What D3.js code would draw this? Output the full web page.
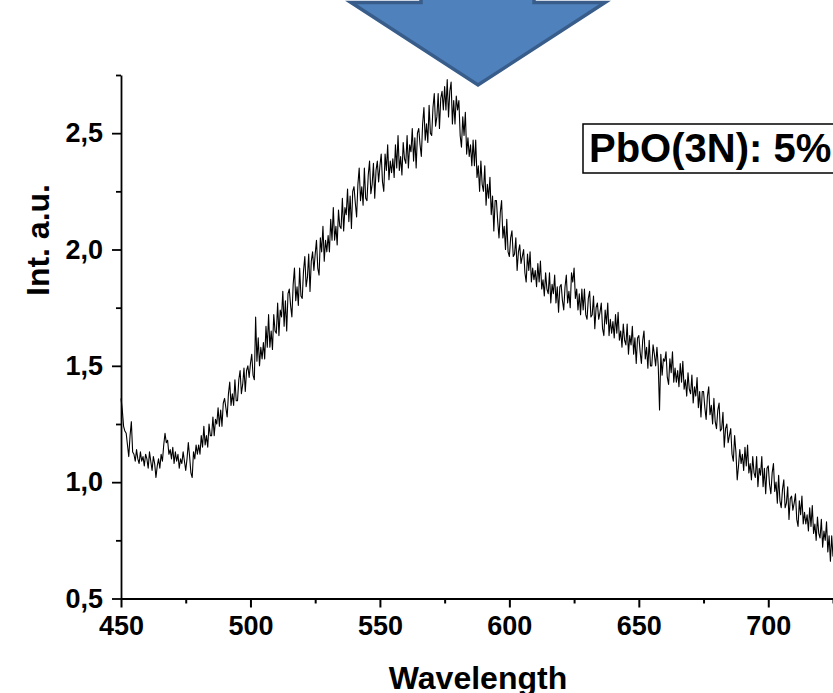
<!DOCTYPE html>
<html>
<head>
<meta charset="utf-8">
<script src="https://cdn.jsdelivr.net/npm/d3@7"></script>
<style>
  html, body { margin: 0; padding: 0; background: #fff; }
  svg { display: block; font-family: "Liberation Sans", Arial, sans-serif; }
</style>
</head>
<body>
<svg id="chart" width="833" height="693"></svg>
<script>
// Emission spectrum, 0.5 nm steps starting at 450 nm
const startWavelength = 450;
const stepNm = 0.5;
const intensity = [
  1.36,1.31,1.24,1.22,1.21,1.16,1.11,1.20,1.26,1.13,
  1.12,1.09,1.14,1.10,1.08,1.13,1.09,1.11,1.07,1.12,
  1.10,1.06,1.13,1.09,1.05,1.11,1.08,1.02,1.07,1.10,
  1.06,1.12,1.09,1.16,1.21,1.17,1.18,1.12,1.14,1.10,
  1.15,1.08,1.13,1.09,1.12,1.06,1.10,1.08,1.13,1.09,
  1.05,1.10,1.17,1.11,1.04,1.02,1.13,1.10,1.16,1.12,
  1.16,1.12,1.20,1.15,1.24,1.16,1.20,1.15,1.25,1.20,
  1.20,1.28,1.20,1.27,1.25,1.32,1.24,1.31,1.24,1.34,
  1.36,1.32,1.28,1.38,1.43,1.33,1.38,1.33,1.44,1.35,
  1.35,1.44,1.48,1.38,1.42,1.49,1.39,1.48,1.50,1.45,
  1.51,1.55,1.46,1.44,1.71,1.52,1.62,1.50,1.58,1.53,
  1.60,1.53,1.67,1.58,1.72,1.58,1.65,1.57,1.72,1.65,
  1.64,1.77,1.63,1.74,1.71,1.82,1.67,1.78,1.65,1.81,
  1.83,1.76,1.71,1.85,1.92,1.78,1.84,1.76,1.92,1.80,
  1.79,1.91,1.97,1.84,1.88,1.98,1.82,1.95,1.99,1.91,
  1.98,2.04,1.92,1.89,2.05,1.99,2.10,1.95,2.04,1.99,
  2.06,1.99,2.13,2.04,2.18,2.04,2.10,2.02,2.17,2.10,
  2.09,2.22,2.08,2.18,2.15,2.26,2.12,2.23,2.09,2.25,
  2.27,2.20,2.14,2.28,2.35,2.21,2.27,2.19,2.35,2.22,
  2.21,2.32,2.38,2.24,2.28,2.37,2.22,2.34,2.38,2.29,
  2.36,2.41,2.29,2.25,2.41,2.34,2.45,2.30,2.38,2.33,
  2.39,2.31,2.45,2.35,2.49,2.34,2.40,2.32,2.46,2.39,
  2.37,2.49,2.35,2.45,2.42,2.52,2.38,2.48,2.35,2.50,
  2.52,2.45,2.40,2.54,2.61,2.47,2.54,2.46,2.62,2.50,
  2.49,2.61,2.67,2.53,2.57,2.67,2.52,2.65,2.68,2.60,
  2.70,2.60,2.73,2.57,2.68,2.72,2.54,2.64,2.54,2.66,
  2.60,2.64,2.49,2.44,2.57,2.49,2.59,2.41,2.48,2.40,
  2.45,2.36,2.47,2.36,2.47,2.31,2.36,2.25,2.38,2.28,
  2.25,2.36,2.19,2.28,2.22,2.31,2.15,2.23,2.08,2.21,
  2.21,2.12,2.05,2.16,2.21,2.05,2.10,2.00,2.13,1.99,
  1.97,2.05,2.08,1.97,1.98,2.05,1.91,1.99,2.02,1.94,
  1.97,2.00,1.90,1.86,1.98,1.91,1.99,1.86,1.92,1.87,
  1.91,1.84,1.94,1.86,1.95,1.83,1.87,1.80,1.90,1.83,
  1.81,1.90,1.77,1.85,1.81,1.89,1.77,1.84,1.73,1.84,
  1.85,1.78,1.74,1.84,1.89,1.77,1.82,1.75,1.90,1.86,
  1.92,1.79,1.83,1.74,1.81,1.72,1.83,1.74,1.83,1.72,
  1.70,1.79,1.82,1.71,1.72,1.80,1.66,1.75,1.77,1.70,
  1.73,1.77,1.66,1.63,1.74,1.68,1.77,1.63,1.70,1.64,
  1.69,1.62,1.72,1.64,1.73,1.61,1.65,1.58,1.68,1.61,
  1.59,1.68,1.55,1.63,1.59,1.67,1.55,1.62,1.51,1.62,
  1.63,1.56,1.51,1.61,1.65,1.53,1.58,1.49,1.61,1.50,
  1.50,1.59,1.55,1.50,1.58,1.50,1.31,1.55,1.46,1.53,
  1.52,1.56,1.45,1.42,1.53,1.47,1.56,1.43,1.49,1.43,
  1.48,1.41,1.51,1.43,1.52,1.40,1.44,1.37,1.47,1.40,
  1.38,1.46,1.34,1.41,1.37,1.45,1.32,1.39,1.28,1.39,
  1.39,1.32,1.27,1.37,1.41,1.29,1.33,1.25,1.36,1.26,
  1.23,1.31,1.34,1.22,1.23,1.30,1.15,1.23,1.25,1.17,
  1.20,1.23,1.12,1.09,1.20,1.13,1.01,1.07,1.14,1.08,
  1.12,1.05,1.15,1.07,1.16,1.04,1.08,1.01,1.11,1.04,
  1.02,1.11,0.98,1.06,1.03,1.11,0.98,1.06,0.95,1.06,
  1.07,0.99,0.95,1.04,1.08,0.96,1.00,0.91,1.03,0.92,
  0.89,0.97,1.01,0.89,0.91,0.98,0.84,0.93,0.94,0.88,
  0.91,0.95,0.84,0.81,0.92,0.86,0.94,0.82,0.87,0.82,
  0.86,0.79,0.89,0.81,0.90,0.78,0.82,0.75,0.85,0.78,
  0.76,0.84,0.72,0.79,0.75,0.83,0.70,0.77,0.66,0.77,
  0.68
];

const xTicks = [450, 500, 550, 600, 650, 700];
const xTickLabels = ["450", "500", "550", "600", "650", "700"];
const xMinorTicks = [475, 525, 575, 625, 675, 725];
const yTicks = [0.5, 1.0, 1.5, 2.0, 2.5];
const yTickLabels = ["0,5", "1,0", "1,5", "2,0", "2,5"];
const yMinorTicks = [0.75, 1.25, 1.75, 2.25, 2.75];

const xTitle = "Wavelength";
const yTitle = "Int. a.u.";
const sampleLabel = "PbO(3N): 5%";

const svg = d3.select("#chart");

const x = d3.scaleLinear().domain([450, 725]).range([121, 833]);
const y = d3.scaleLinear().domain([0.5, 2.75]).range([598.5, 75]);

const data = intensity.map((v, i) => ({ w: startWavelength + i * stepNm, v }));

// spectrum trace
svg.append("path")
  .datum(data)
  .attr("fill", "none")
  .attr("stroke", "#000")
  .attr("stroke-width", 1.1)
  .attr("stroke-linejoin", "round")
  .attr("d", d3.line().x(d => x(d.w)).y(d => y(d.v)));

// x axis: major + minor ticks
const xAxisG = svg.append("g").attr("transform", `translate(0,${y(0.5)})`);
xAxisG.call(d3.axisBottom(x).tickValues(xTicks)
    .tickFormat((d, i) => xTickLabels[i])
    .tickSizeInner(9).tickSizeOuter(0).tickPadding(8));
xAxisG.append("g").call(d3.axisBottom(x).tickValues(xMinorTicks)
    .tickFormat("").tickSizeInner(5).tickSizeOuter(0))
  .select(".domain").remove();
xAxisG.selectAll(".domain").attr("stroke-width", 2.2);
xAxisG.selectAll(".tick line").attr("stroke-width", 2);
xAxisG.selectAll(".tick text")
  .attr("font-size", 27).attr("font-weight", "bold").attr("fill", "#000")
  .attr("font-family", "'Liberation Sans', Arial, sans-serif");

// y axis: major + minor ticks
const yAxisG = svg.append("g").attr("transform", `translate(${x(450)},0)`);
yAxisG.call(d3.axisLeft(y).tickValues(yTicks)
    .tickFormat((d, i) => yTickLabels[i])
    .tickSizeInner(9).tickSizeOuter(0).tickPadding(9));
yAxisG.append("g").call(d3.axisLeft(y).tickValues(yMinorTicks)
    .tickFormat("").tickSizeInner(5).tickSizeOuter(0))
  .select(".domain").remove();
yAxisG.selectAll(".domain").attr("stroke-width", 1.8);
yAxisG.selectAll(".tick line").attr("stroke-width", 1.8);
yAxisG.selectAll(".tick text")
  .attr("font-size", 27).attr("font-weight", "bold").attr("fill", "#000")
  .attr("font-family", "'Liberation Sans', Arial, sans-serif");

// axis titles
svg.append("text")
  .attr("x", 478).attr("y", 689)
  .attr("text-anchor", "middle")
  .attr("font-size", 32).attr("font-weight", "bold")
  .text(xTitle);

svg.append("text")
  .attr("transform", "translate(49,240) rotate(-90)")
  .attr("text-anchor", "middle")
  .attr("font-size", 32).attr("font-weight", "bold")
  .text(yTitle);

// sample label box
const label = svg.append("g");
label.append("rect")
  .attr("x", 583).attr("y", 124).attr("width", 300).attr("height", 49)
  .attr("fill", "#fff").attr("stroke", "#000").attr("stroke-width", 1.5);
label.append("text")
  .attr("x", 589).attr("y", 162)
  .attr("font-size", 40).attr("font-weight", "bold")
  .text(sampleLabel);

// marker arrow pointing down at the emission maximum
const arrowPts = [[421, -60], [534, -60], [534, 2.5], [605, 2.5], [478, 85], [351, 2.5], [421, 2.5]];
svg.append("path")
  .attr("d", d3.line()(arrowPts) + "Z")
  .attr("fill", "#4F81BD")
  .attr("stroke", "#385D8A")
  .attr("stroke-width", 3.5)
  .attr("stroke-linejoin", "miter");
</script>
</body>
</html>
